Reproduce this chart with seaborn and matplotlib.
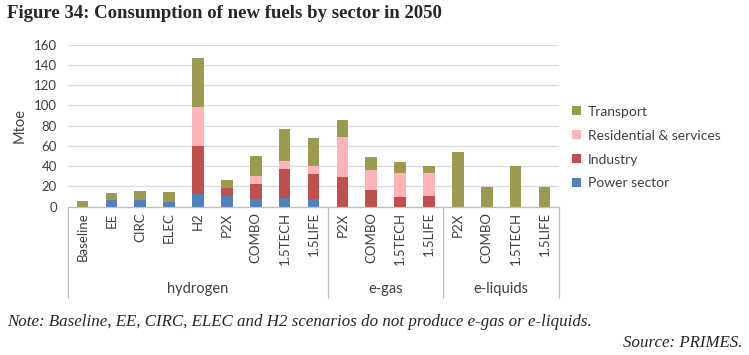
import matplotlib
matplotlib.use("Agg")
import matplotlib.pyplot as plt
import seaborn as sns
import pandas as pd
import numpy as np
from matplotlib.patches import Patch

# ---- data ----
groups = ["hydrogen"] * 9 + ["e-gas"] * 4 + ["e-liquids"] * 4
scenarios = ["Baseline", "EE", "CIRC", "ELEC", "H2", "P2X", "COMBO", "1.5TECH", "1.5LIFE",
             "P2X", "COMBO", "1.5TECH", "1.5LIFE",
             "P2X", "COMBO", "1.5TECH", "1.5LIFE"]
power = [0, 6.5, 6.5, 5, 13, 11, 7.5, 9, 7.5, 0, 0, 0, 0, 0, 0, 0, 0]
industry = [0, 0, 0, 0, 47, 7, 15, 28.5, 24.5, 29, 16.5, 10, 11, 0, 0, 0, 0]
residential = [0, 0, 0, 0, 38, 0, 7.5, 8, 8.5, 40, 20, 23, 22, 0, 0, 0, 0]
transport = [5.5, 7.5, 9, 10, 49, 8.5, 20, 31.5, 27.5, 16.5, 12.5, 11, 7.5, 54.5, 19, 40.5, 19]
series_names = ["Power sector", "Industry", "Residential & services", "Transport"]
colors = {"Power sector": "#4F81BD", "Industry": "#C0504D",
          "Residential & services": "#FFB3B8", "Transport": "#9C9A4E"}

ids = [f"{g}|{s}" for g, s in zip(groups, scenarios)]
df = pd.DataFrame({"id": ids, "Power sector": power, "Industry": industry,
                   "Residential & services": residential, "Transport": transport})
cum = df[series_names].cumsum(axis=1)

sns.set_theme(style="white")
font = "Lato"
plt.rcParams["font.family"] = [font, "DejaVu Sans"]

fig = plt.figure(figsize=(7.49, 3.55), dpi=100)
ax = fig.add_axes([0.0908, 0.4177, 0.6555, 0.4564])

# stacked bars: draw cumulative totals from top layer down
for name in reversed(series_names):
    sns.barplot(x=df["id"], y=cum[name], color=colors[name], width=0.4,
                saturation=1, ax=ax, order=ids, edgecolor="none", linewidth=0)

ax.set_ylim(0, 160)
ax.set_xlim(-0.5, len(ids) - 0.5)
ax.set_yticks(range(0, 161, 20))
ax.yaxis.grid(True, color="#D9D9D9", linewidth=0.9)
ax.set_axisbelow(True)
for sp in ["top", "right", "left"]:
    ax.spines[sp].set_visible(False)
ax.spines["bottom"].set_color("#BFBFBF")
ax.spines["bottom"].set_linewidth(0.9)
ax.tick_params(axis="y", length=0, labelsize=9.5, labelcolor="#404040", pad=8)
ax.set_ylabel("Mtoe", fontsize=10.5, color="#404040", labelpad=5)
ax.set_xlabel("")
ax.set_xticks(range(len(ids)))
ax.set_xticklabels(scenarios, rotation=90, fontsize=9.5, color="#404040")
ax.tick_params(axis="x", length=0, pad=4)

# group separators and labels
bounds = [-0.5, 8.5, 12.5, 16.5]
for b in bounds:
    ax.plot([b, b], [0, -0.565], transform=ax.get_xaxis_transform(),
            color="#BFBFBF", linewidth=0.9, clip_on=False)
for gname, (a, b) in zip(["hydrogen", "e-gas", "e-liquids"],
                         zip(bounds[:-1], bounds[1:])):
    ax.text((a + b) / 2, -0.51, gname, transform=ax.get_xaxis_transform(),
            ha="center", va="center", fontsize=10.5, color="#404040")

# legend
handles = [Patch(facecolor=colors[n], edgecolor="none", label=n)
           for n in ["Transport", "Residential & services", "Industry", "Power sector"]]
fig.legend(handles=handles, loc="upper left", bbox_to_anchor=(0.756, 0.718),
           frameon=False, fontsize=10, labelcolor="#404040", handlelength=0.65,
           handleheight=0.65, handletextpad=0.5, labelspacing=0.86, borderaxespad=0)

# texts
fig.text(0.009, 0.962, "Figure 34: Consumption of new fuels by sector in 2050",
         fontsize=13.5, fontweight="bold", family="Liberation Serif", va="center")
fig.text(0.009, 0.093, "Note: Baseline, EE, CIRC, ELEC and H2 scenarios do not produce e-gas or e-liquids.",
         fontsize=12.2, style="italic", family="Liberation Serif", va="center")
fig.text(0.991, 0.035, "Source: PRIMES.", fontsize=12.2, style="italic",
         family="Liberation Serif", va="center", ha="right")

fig.savefig("out.png", dpi=100)
